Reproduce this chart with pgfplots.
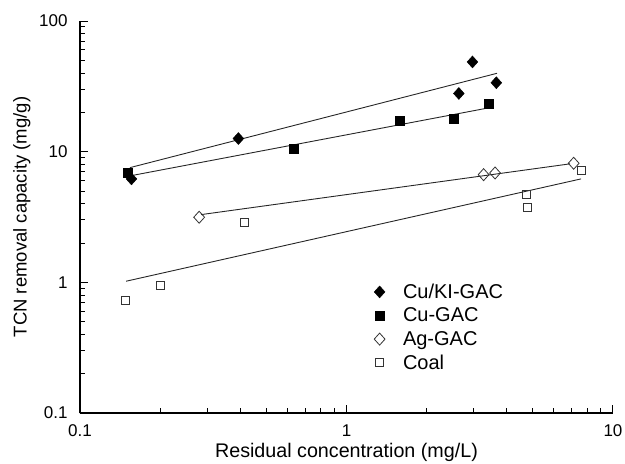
\documentclass[border=0pt]{standalone}
\usepackage{pgfplots}
\pgfplotsset{compat=1.18}
\usepackage{fontspec}
\setmainfont{Liberation Sans}

\begin{document}
\begin{tikzpicture}
\path[use as bounding box] (-80pt,-51pt) rectangle (545pt,413pt);
\begin{axis}[
    at={(0,0)}, anchor=south west,
    scale only axis,
    width=533pt, height=392pt,
    xmode=log, ymode=log,
    xmin=0.1, xmax=10, ymin=0.1, ymax=100,
    axis x line*=bottom, axis y line*=left,
    axis line style={-, line width=1.3pt},
    tick align=inside,
    major tick length=8pt, minor tick length=5pt,
    every tick/.style={black, line width=1pt},
    xtick={0.1,1,10}, xticklabels={0.1,1,10},
    ytick={0.1,1,10,100}, yticklabels={0.1,1,10,100},
    /pgf/number format/assume math mode=true,
    ticklabel style={font=\fontsize{17}{20}\selectfont},
    yticklabel style={xshift=-9pt},
    xticklabel style={yshift=-8pt},
    xlabel={Residual concentration (mg/L)},
    ylabel={TCN removal capacity (mg/g)},
    xlabel style={font=\fontsize{19.7}{22}\selectfont, at={(axis description cs:0.5,-0.1)}, anchor=center},
    ylabel style={font=\fontsize{18.5}{22}\selectfont, at={(axis description cs:-0.109,0.5)}, anchor=center},
    legend style={draw=none, fill=none, at={(0.546,0.34)}, anchor=north west,
        font=\fontsize{20}{22}\selectfont, row sep=4pt},
    legend cell align=left,
    clip=false,
]
% fitted lines
\addplot[black!85, line width=0.9pt, forget plot] coordinates {(0.154,7.55) (3.67,39.8)};
\addplot[black!85, line width=0.9pt, forget plot] coordinates {(0.156,6.56) (3.40,21.6)};
\addplot[black!85, line width=0.9pt, forget plot] coordinates {(0.285,3.30) (6.90,8.07)};
\addplot[black!85, line width=0.9pt, forget plot] coordinates {(0.149,1.02) (7.59,6.19)};
% data
\addplot[only marks, mark=diamond*, mark size=6pt, mark options={xscale=1.2, fill=black, draw=black}]
  coordinates {(0.156,6.19) (0.393,12.6) (2.97,48.6) (2.64,27.9) (3.65,33.7)};
\addlegendentry{\hspace{16pt}Cu/KI-GAC}
\addplot[only marks, mark=square*, mark size=4.5pt, mark options={fill=black, draw=black}]
  coordinates {(0.151,6.95) (0.635,10.6) (1.58,17.3) (2.52,17.9) (3.42,23.1)};
\addlegendentry{\hspace{16pt}Cu-GAC}
\addplot[only marks, mark=diamond, mark size=6pt, mark options={xscale=1.2, draw=black!80, fill=white, line width=0.8pt}]
  coordinates {(0.28,3.15) (3.27,6.67) (3.61,6.87) (7.12,8.15)};
\addlegendentry{\hspace{16pt}Ag-GAC}
\addplot[only marks, mark=square, mark size=4pt, mark options={draw=black!80, fill=white, line width=0.8pt}]
  coordinates {(0.148,0.724) (0.201,0.944) (0.413,2.89) (4.74,4.75) (4.78,3.76) (7.59,7.24)};
\addlegendentry{\hspace{16pt}Coal}
\end{axis}
\end{tikzpicture}
\end{document}
